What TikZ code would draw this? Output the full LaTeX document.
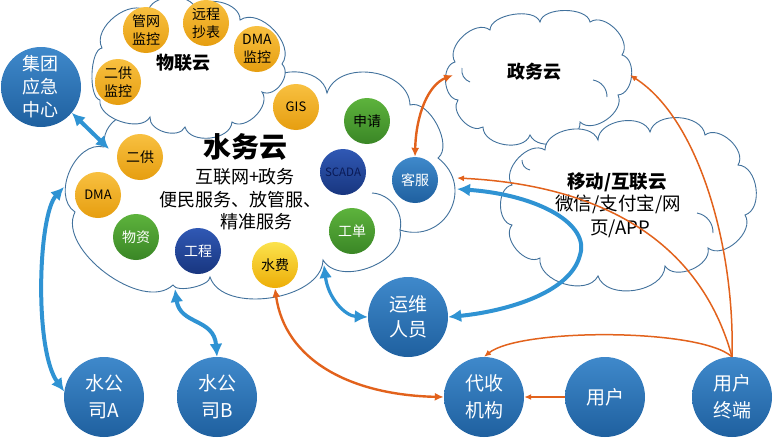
\documentclass[tikz,border=0pt]{standalone}
\usepackage{fontspec}
\setmainfont{Noto Sans CJK SC}
\usetikzlibrary{arrows.meta,calc}
\definecolor{cloudline}{HTML}{41719C}
\definecolor{bluetop}{HTML}{3F89CB}
\definecolor{bluebot}{HTML}{1F609F}
\definecolor{orgtop}{HTML}{F8C040}
\definecolor{orgbot}{HTML}{E69E10}
\definecolor{grntop}{HTML}{5DB33C}
\definecolor{grnbot}{HTML}{3A8626}
\definecolor{dbltop}{HTML}{3058B4}
\definecolor{dblbot}{HTML}{18367F}
\definecolor{yeltop}{HTML}{FBE24C}
\definecolor{yelbot}{HTML}{EDAE08}
\definecolor{arrblue}{HTML}{2F93D3}
\definecolor{arrorg}{HTML}{E2621C}
\definecolor{navytext}{HTML}{0A1A55}
\tikzset{
  bp/.style={bend left=80, looseness=#1}, bp/.default=1,
  cloudst/.style={draw=cloudline, line width=0.9pt, fill=white},
  innerst/.style={draw=cloudline, line width=0.9pt},
  ball/.style={circle, inner sep=0pt, align=center, minimum size=46pt,
    font=\fontsize{14}{18}\selectfont},
  orgball/.style={ball, top color=orgtop, bottom color=orgbot, text=black},
  grnball/.style={ball, top color=grntop, bottom color=grnbot, text=white},
  dblball/.style={ball, top color=dbltop, bottom color=dblbot, text=white},
  yelball/.style={ball, top color=yeltop, bottom color=yelbot, text=black},
  kfball/.style={ball, top color=bluetop, bottom color=bluebot, text=white},
  bigball/.style={ball, minimum size=80pt, top color=bluetop, bottom color=bluebot,
    text=white, font=\fontsize{19}{27}\selectfont},
  blarr/.style={draw=arrblue, line width=4pt,
    {Latex[length=13pt,width=13pt]}-{Latex[length=13pt,width=13pt]}},
  orarr/.style={draw=arrorg, line width=2.4pt,
    {Latex[length=9pt,width=8pt]}-{Latex[length=9pt,width=8pt]}},
  orthin/.style={draw=arrorg, line width=1.5pt, -{Latex[length=7pt,width=6pt]}},
  lab/.style={inner sep=0pt, align=center},
}
\begin{document}
\begin{tikzpicture}[x=1pt,y=-1pt]
\useasboundingbox (0,0) rectangle (774,439);
% main cloud
\draw[cloudst] (104,147) to[bend left=30] (118,118) -- (262,92)
  to[bp=1.1] (327,93) to[bp=1.1] (410,105) to[bp=.85] (438,158)
  to[bp=1.5] (400,230) to[bp=1] (323,260) to[bp=.9] (210,277)
  to[bp=.6] (173,285) to[bp=.87] (75,212) to[bp=1.05] (104,147) -- cycle;
\draw[innerst] (372,193) to[bend left=50] (400,230);
% IoT cloud
\draw[cloudst] (102,48) to[bp] (148,12) to[bp] (196,10) to[bp] (240,20)
  to[bp] (282,64) to[bp=1.1] (262,92) to[bp] (232,122) to[bp] (185,127)
  to[bp] (150,117) to[bp=.9] (100,100) to[bp=.6] (102,48) -- cycle;
% gov cloud
\draw[cloudst] (455,62) to[bp] (490,30) to[bp=.8] (540,22) to[bp=.8] (590,22)
  to[bp] (622,55) to[bp] (618,95) to[bp] (580,122) to[bp] (530,135)
  to[bp] (483,127) to[bp] (458,100) to[bp] (455,62) -- cycle;
\draw[innerst] (470,82) to[bend left=40] (462,68);
\draw[innerst] (593,80) to[bend left=40] (607,97);
% mobile cloud
\draw[cloudst] (512,185) to[bp] (545,150) to[bp] (598,140) to[bp] (650,132)
  to[bp] (705,135) to[bp] (738,165) to[bp] (745,215) to[bp] (708,248)
  to[bp] (665,266) to[bp] (598,276) to[bp] (540,258) to[bp] (512,225)
  to[bp] (512,185) -- cycle;
\draw[innerst] (697,213) to[bend left=40] (713,233);
\draw[innerst] (530,170) to[bend left=40] (522,160);
% balls
\node[bigball, font=\fontsize{18}{23}\selectfont] (jt) at (41,87) {集团\\应急\\中心};
\node[orgball] (gw) at (146,30) {管网\\监控};
\node[orgball] (yc) at (206,23) {远程\\抄表};
\node[orgball] (dmajk) at (257,49) {DMA\\监控};
\node[orgball] (egjk) at (118,82) {二供\\监控};
\node[orgball, font=\fontsize{13}{15}\selectfont] (gis) at (296,107) {GIS};
\node[grnball, text=black] (sq) at (367,121) {申请};
\node[orgball] (eg) at (140,157) {二供};
\node[dblball, text=navytext, font=\fontsize{11.5}{13}\selectfont] (scada) at (343,172) {SCADA};
\node[kfball] (kf) at (415,180) {客服};
\node[orgball, font=\fontsize{13}{15}\selectfont] (dma) at (98,195) {DMA};
\node[grnball] (gd) at (352,231) {工单};
\node[grnball] (wz) at (136,237) {物资};
\node[dblball] (gc) at (198,251) {工程};
\node[yelball] (sf) at (275,265) {水费};
\node[bigball, font=\fontsize{19}{25}\selectfont] (yw) at (408,317) {运维\\人员};
\node[bigball] (wA) at (104,397) {水公\\司A};
\node[bigball] (wB) at (217,397) {水公\\司B};
\node[bigball] (ds) at (484,397) {代收\\机构};
\node[bigball] (yh) at (605,397) {用户};
\node[bigball] (zd) at (732,397) {用户\\终端};
% labels
\node[lab, font=\bfseries\fontsize{18}{20}\selectfont] (wly) at (183,63) {物联云};
\node[lab, font=\bfseries\fontsize{28}{30}\selectfont] (sw) at (245,147) {水务云};
\node[lab, font=\fontsize{18}{20}\selectfont] (sub1) at (245,177) {互联网+政务};
\node[lab, font=\fontsize{18}{20}\selectfont] (sub2) at (240,200) {便民服务、放管服、};
\node[lab, font=\fontsize{18}{20}\selectfont] (sub3) at (256,222) {精准服务};
\node[lab, font=\bfseries\fontsize{18}{20}\selectfont] (zwy) at (534,72) {政务云};
\node[lab, font=\bfseries\fontsize{18.5}{20}\selectfont] (yd1) at (617,182) {移动/互联云};
\node[lab, font=\fontsize{18.5}{20}\selectfont] (yd2) at (618,204) {微信/支付宝/网};
\node[lab, font=\fontsize{18.5}{20}\selectfont] (yd3) at (620,229) {页/APP};
% edge coordinates
\coordinate (cJT) at (109,149);
\coordinate (cWA) at (64,187);
\coordinate (cWB) at (175,289);
\coordinate (cYW) at (324,265);
\coordinate (cKF1) at (457,178);
\coordinate (cKF2) at (457,189);
\coordinate (cZW1) at (453,75);
\coordinate (cZW2) at (630,75);
\coordinate (cLoop) at (580,255);
% blue arrows
\draw[blarr] (jt.-40) -- (cJT);
\draw[blarr] (cWA) .. controls (38,215) and (34,350) .. (wA.172);
\draw[blarr] (cWB) .. controls (180,325) and (214,318) .. (wB.north);
\draw[blarr, line width=3.2pt] (cYW) .. controls (328,298) and (345,316) .. (yw.west);
\draw[blarr] (cKF2) .. controls (540,195) and (590,225) .. (cLoop)
  .. controls (570,295) and (500,312) .. (yw.east);
% orange arrows
\draw[orarr] (sf.south) .. controls (285,360) and (350,395) .. (ds.west);
\draw[orarr] (kf.north) .. controls (416,115) and (428,85) .. (cZW1);
\draw[orthin] (zd.north) .. controls (700,240) and (600,185) .. (cKF1);
\draw[orthin] (zd.north) .. controls (735,250) and (700,120) .. (cZW2);
\draw[orthin] (zd.north) .. controls (700,328) and (520,328) .. (ds.north);
\draw[orthin] (yh.west) -- (ds.east);
\end{tikzpicture}
\end{document}
